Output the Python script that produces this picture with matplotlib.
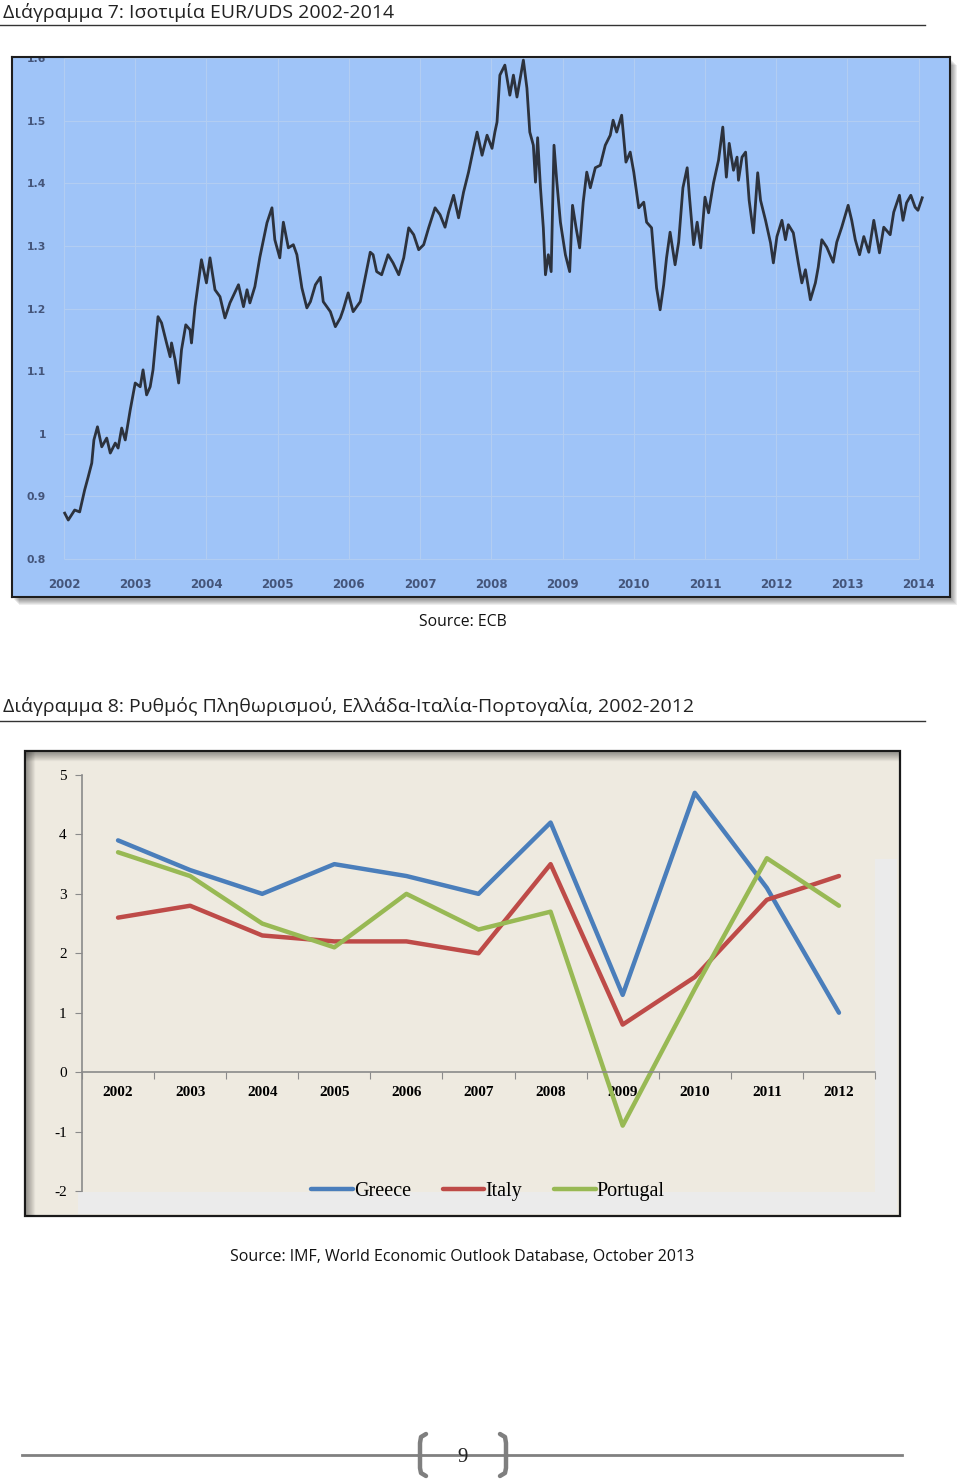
import numpy as np
import matplotlib.pyplot as plt
from matplotlib.patches import Rectangle

W, H = 960, 1480
SANS = ['Open Sans', 'DejaVu Sans']
SERIF = ['Liberation Serif', 'DejaVu Serif']

# EUR/USD readings (fractional year, rate)
fx_year = [
    2002.01, 2002.06, 2002.15, 2002.22, 2002.29, 2002.34, 2002.39, 2002.42, 2002.47, 2002.53,
    2002.60, 2002.65, 2002.72, 2002.76, 2002.81, 2002.86, 2002.93, 2003.00, 2003.07, 2003.11,
    2003.16, 2003.21, 2003.25, 2003.32, 2003.37, 2003.44, 2003.49, 2003.51, 2003.56, 2003.61,
    2003.65, 2003.71, 2003.77, 2003.79, 2003.84, 2003.93, 2004.00, 2004.05, 2004.12, 2004.19,
    2004.26, 2004.33, 2004.45, 2004.52, 2004.57, 2004.61, 2004.68, 2004.75, 2004.85, 2004.92,
    2004.96, 2005.03, 2005.08, 2005.15, 2005.22, 2005.27, 2005.34, 2005.41, 2005.46, 2005.53,
    2005.60, 2005.64, 2005.74, 2005.81, 2005.88, 2005.92, 2005.99, 2006.06, 2006.16, 2006.20,
    2006.30, 2006.34, 2006.39, 2006.46, 2006.55, 2006.62, 2006.70, 2006.77, 2006.84, 2006.91,
    2006.98, 2007.05, 2007.12, 2007.21, 2007.28, 2007.35, 2007.40, 2007.47, 2007.54, 2007.61,
    2007.68, 2007.75, 2007.80, 2007.87, 2007.94, 2008.01, 2008.05, 2008.08, 2008.12, 2008.19,
    2008.26, 2008.31, 2008.36, 2008.43, 2008.45, 2008.50, 2008.54, 2008.59, 2008.62, 2008.65,
    2008.69, 2008.73, 2008.76, 2008.80, 2008.84, 2008.88, 2008.92, 2008.97, 2009.04, 2009.10,
    2009.14, 2009.19, 2009.24, 2009.29, 2009.34, 2009.39, 2009.46, 2009.53, 2009.60, 2009.67,
    2009.71, 2009.76, 2009.83, 2009.89, 2009.95, 2010.00, 2010.07, 2010.14, 2010.18, 2010.25,
    2010.30, 2010.32, 2010.37, 2010.42, 2010.46, 2010.51, 2010.58, 2010.63, 2010.69, 2010.75,
    2010.78, 2010.84, 2010.89, 2010.94, 2011.00, 2011.05, 2011.12, 2011.19, 2011.25, 2011.30,
    2011.34, 2011.40, 2011.45, 2011.47, 2011.52, 2011.57, 2011.62, 2011.68, 2011.74, 2011.78,
    2011.85, 2011.92, 2011.96, 2012.01, 2012.08, 2012.13, 2012.17, 2012.24, 2012.31, 2012.36,
    2012.41, 2012.48, 2012.55, 2012.59, 2012.64, 2012.71, 2012.80, 2012.85, 2012.92, 2013.01,
    2013.06, 2013.11, 2013.17, 2013.23, 2013.30, 2013.37, 2013.45, 2013.51, 2013.60, 2013.65,
    2013.73, 2013.78, 2013.83, 2013.89, 2013.95, 2013.99, 2014.05,
]
fx_rate = [
    0.873, 0.862, 0.878, 0.875, 0.910, 0.931, 0.953, 0.990, 1.011, 0.979,
    0.993, 0.969, 0.985, 0.977, 1.009, 0.990, 1.038, 1.081, 1.075, 1.102,
    1.062, 1.075, 1.102, 1.187, 1.177, 1.145, 1.123, 1.145, 1.118, 1.081,
    1.134, 1.174, 1.166, 1.145, 1.203, 1.278, 1.241, 1.281, 1.230, 1.219,
    1.185, 1.209, 1.238, 1.203, 1.230, 1.209, 1.235, 1.282, 1.337, 1.361,
    1.310, 1.281, 1.338, 1.297, 1.302, 1.286, 1.233, 1.201, 1.211, 1.238,
    1.250, 1.211, 1.195, 1.171, 1.185, 1.198, 1.225, 1.195, 1.211, 1.233,
    1.290, 1.286, 1.259, 1.254, 1.286, 1.273, 1.254, 1.281, 1.329, 1.318,
    1.294, 1.302, 1.329, 1.361, 1.350, 1.330, 1.354, 1.381, 1.345, 1.386,
    1.418, 1.456, 1.482, 1.445, 1.477, 1.456, 1.482, 1.498, 1.573, 1.589,
    1.541, 1.573, 1.538, 1.584, 1.597, 1.552, 1.482, 1.461, 1.402, 1.473,
    1.393, 1.329, 1.254, 1.286, 1.259, 1.461, 1.402, 1.338, 1.286, 1.259,
    1.365, 1.329, 1.297, 1.370, 1.418, 1.393, 1.425, 1.429, 1.461, 1.477,
    1.501, 1.482, 1.509, 1.434, 1.450, 1.418, 1.361, 1.370, 1.338, 1.329,
    1.259, 1.233, 1.198, 1.238, 1.281, 1.322, 1.270, 1.306, 1.393, 1.425,
    1.381, 1.302, 1.338, 1.297, 1.378, 1.353, 1.401, 1.437, 1.490, 1.410,
    1.464, 1.421, 1.442, 1.405, 1.442, 1.450, 1.373, 1.321, 1.417, 1.373,
    1.341, 1.305, 1.273, 1.315, 1.341, 1.310, 1.334, 1.321, 1.273, 1.241,
    1.262, 1.214, 1.241, 1.266, 1.310, 1.298, 1.274, 1.306, 1.330, 1.365,
    1.341, 1.310, 1.286, 1.315, 1.290, 1.341, 1.289, 1.330, 1.318, 1.354,
    1.381, 1.341, 1.369, 1.381, 1.362, 1.357, 1.377,
]
fx_years_ticks = list(range(2002, 2015))
fx_levels = [0.8, 0.9, 1.0, 1.1, 1.2, 1.3, 1.4, 1.5, 1.6]
fx_level_labels = ['0.8', '0.9', '1', '1.1', '1.2', '1.3', '1.4', '1.5', '1.6']

# inflation, IMF WEO Oct 2013
years = ['2002', '2003', '2004', '2005', '2006', '2007', '2008', '2009', '2010', '2011', '2012']
greece = [3.9, 3.4, 3.0, 3.5, 3.3, 3.0, 4.2, 1.3, 4.7, 3.1, 1.0]
italy = [2.6, 2.8, 2.3, 2.2, 2.2, 2.0, 3.5, 0.8, 1.6, 2.9, 3.3]
portugal = [3.7, 3.3, 2.5, 2.1, 3.0, 2.4, 2.7, -0.9, 1.4, 3.6, 2.8]

fig = plt.figure(figsize=(W / 100, H / 100), dpi=100)
fig.patch.set_facecolor('white')


def px_axes(x0, y0, x1, y1, **kw):
    return fig.add_axes([x0 / W, 1 - y1 / H, (x1 - x0) / W, (y1 - y0) / H], **kw)


# page layer in pixel coordinates
bg = fig.add_axes([0, 0, 1, 1], zorder=0)
bg.set_xlim(0, W)
bg.set_ylim(H, 0)
bg.axis('off')

bg.text(3, 12, 'Διάγραμμα 7: Ισοτιμία EUR/UDS 2002-2014', fontsize=14, family=SANS,
        ha='left', va='center', color='#222222')
bg.plot([0, 925], [25, 25], color='#333333', lw=1)

# drop shadow of the scanned chart
for i in range(6):
    bg.add_patch(Rectangle((14 + i, 60 + i), 938, 540, facecolor='#000000',
                           alpha=0.07, edgecolor='none'))

bg.text(463, 622, 'Source: ECB', fontsize=11.3, family=SANS, ha='center', va='center',
        color='#111111')

bg.text(3, 706, 'Διάγραμμα 8: Ρυθμός Πληθωρισμού, Ελλάδα-Ιταλία-Πορτογαλία, 2002-2012',
        fontsize=14, family=SANS, ha='left', va='center', color='#222222')
bg.plot([0, 925], [721, 721], color='#333333', lw=1)

# frame of the inflation chart
bg.add_patch(Rectangle((25, 751), 875, 465, facecolor='#eeeae0', edgecolor='none'))
bg.add_patch(Rectangle((875, 859), 22, 333, facecolor='#ebebeb', edgecolor='none'))
bg.add_patch(Rectangle((78, 1192), 819, 22, facecolor='#ebebeb', edgecolor='none'))
for i in range(9):
    a = 0.28 * (1 - i / 9)
    bg.plot([26, 899], [752 + i, 752 + i], color='black', alpha=a, lw=1)
    bg.plot([26 + i, 26 + i], [752, 1215], color='black', alpha=a, lw=1)
bg.add_patch(Rectangle((25, 751), 875, 465, facecolor='none', edgecolor='#1a1a1a', lw=1.6))

bg.text(462, 1257, 'Source: IMF, World Economic Outlook Database, October 2013', fontsize=11.5,
        family=SANS, ha='center', va='center', color='#111111')

# page number footer
bg.plot([22, 902], [1455, 1455], color='#808080', lw=2)
for side in (-1, 1):
    cx = 463 + side * 43
    xs = [cx - side * 6, cx - side * 1, cx, cx, cx - side * 1, cx - side * 6]
    ys = [1434, 1437, 1443, 1468, 1473, 1476]
    bg.plot(xs, ys, color='#7f7f7f', lw=3.2, solid_capstyle='round', solid_joinstyle='round')
bg.text(463, 1457, '9', fontsize=15, family=SERIF, ha='center', va='center', color='#222222')

# ---- EUR/USD chart ----
ax1 = px_axes(12, 57, 950, 597, zorder=2)
ax1.set_facecolor('#9fc4f8')
ax1.set_xlim(2001.27, 2014.44)
ax1.set_ylim(0.739, 1.602)
ax1.hlines(fx_levels, 2002, 2014, color='#b2cdf2', lw=0.8, zorder=1)
ax1.vlines(fx_years_ticks, 0.8, 1.6, color='#b2cdf2', lw=0.8, zorder=1)
ax1.plot(fx_year, fx_rate, color='#2c323d', lw=2.0, zorder=3)
ax1.set_xticks(fx_years_ticks)
ax1.set_xticklabels([str(y) for y in fx_years_ticks])
ax1.set_yticks(fx_levels)
ax1.set_yticklabels(fx_level_labels)
ax1.tick_params(axis='x', length=0, pad=-13.5, labelsize=8.5, labelcolor='#44557a')
ax1.tick_params(axis='y', length=0, pad=-24.5, labelsize=7.8, labelcolor='#44557a')
for lbl in ax1.get_xticklabels() + ax1.get_yticklabels():
    lbl.set_fontweight('bold')
    lbl.set_family('DejaVu Sans')
    lbl.set_clip_on(True)
    lbl.set_clip_box(ax1.bbox)
for sp in ax1.spines.values():
    sp.set_color('#1e1e1e')
    sp.set_linewidth(1.5)

# ---- inflation chart ----
ax2 = px_axes(82, 775, 875, 1191, zorder=2)
ax2.set_facecolor('none')
ax2.set_xlim(-0.5, 10.5)
ax2.set_ylim(-2, 5)
xpos = np.arange(len(years))
ax2.plot(xpos, greece, color='#4a7ebb', lw=3.2, label='Greece', solid_capstyle='round')
ax2.plot(xpos, italy, color='#be4b48', lw=3.2, label='Italy', solid_capstyle='round')
ax2.plot(xpos, portugal, color='#98b954', lw=3.2, label='Portugal', solid_capstyle='round')

for s in ('top', 'right'):
    ax2.spines[s].set_visible(False)
ax2.spines['bottom'].set_position(('data', 0))
for s in ('bottom', 'left'):
    ax2.spines[s].set_color('#8a8a8a')
    ax2.spines[s].set_linewidth(1.2)

ax2.set_xticks(np.arange(-0.5, len(years), 1))
ax2.set_xticklabels([])
ax2.set_xticks(xpos, minor=True)
ax2.set_xticklabels(years, minor=True, fontsize=11, fontweight='bold', family=SERIF)
ax2.tick_params(axis='x', which='major', direction='out', length=5, color='#8a8a8a')
ax2.tick_params(axis='x', which='minor', length=0, pad=10)
ax2.set_yticks(range(-2, 6))
ax2.set_yticklabels([str(v) for v in range(-2, 6)], fontsize=11, family=SERIF)
ax2.tick_params(axis='y', direction='out', length=5, color='#8a8a8a', pad=6)

ax2.legend(loc='center', bbox_to_anchor=(0.512, -0.002), ncol=3, frameon=False,
           prop={'family': SERIF, 'size': 14.5}, handlelength=2.05, handletextpad=0.05,
           columnspacing=1.6)

fig.savefig('out.png', dpi=100, facecolor='white')
